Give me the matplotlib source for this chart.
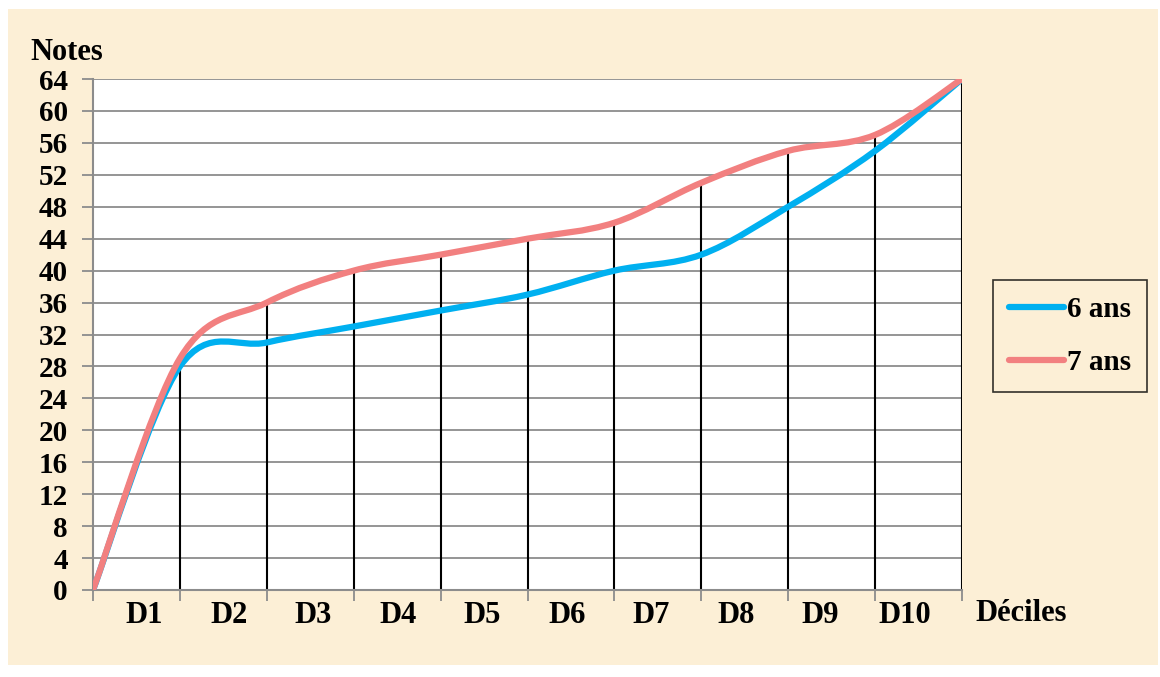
import numpy as np
import matplotlib
matplotlib.use('Agg')
import matplotlib.pyplot as plt
from matplotlib.path import Path
from matplotlib.patches import PathPatch, Rectangle
from matplotlib.lines import Line2D

# data (values at decile boundaries 0..10)
bounds = np.arange(11)
notes_6ans = [0, 28, 31, 33, 35, 37, 40, 42, 48, 55, 64]
notes_7ans = [0, 29, 36, 40, 42, 44, 46, 51, 55, 57, 64]
decile_labels = ['D1', 'D2', 'D3', 'D4', 'D5', 'D6', 'D7', 'D8', 'D9', 'D10']
y_ticks = list(range(0, 65, 4))

blue = '#00B0F0'
pink = '#F28080'
bg = '#FCEFD6'

plt.rcParams['font.family'] = ['Liberation Serif', 'DejaVu Serif']
plt.rcParams['font.weight'] = 'bold'

fig = plt.figure(figsize=(11.6, 6.77), dpi=100)
fig.patch.set_facecolor('white')
# parchment background panel
fig.patches.append(Rectangle((8 / 1160, 12 / 677), 1150 / 1160, 656 / 677,
                             transform=fig.transFigure, facecolor=bg,
                             edgecolor='none', zorder=-10))

ax = fig.add_axes([93 / 1160, 1 - 590 / 677, 869 / 1160, 511 / 677])
ax.set_facecolor('white')


def smooth_path(xs, ys):
    # excel-like smoothed line: bezier segments through the data points
    xs = np.asarray(xs, float)
    ys = np.asarray(ys, float)
    n = len(xs)
    verts = [(xs[0], ys[0])]
    codes = [Path.MOVETO]
    for i in range(n - 1):
        p0 = (xs[max(i - 1, 0)], ys[max(i - 1, 0)])
        p1 = (xs[i], ys[i])
        p2 = (xs[i + 1], ys[i + 1])
        p3 = (xs[min(i + 2, n - 1)], ys[min(i + 2, n - 1)])
        c1 = (p1[0] + (p2[0] - p0[0]) / 6, p1[1] + (p2[1] - p0[1]) / 6)
        c2 = (p2[0] - (p3[0] - p1[0]) / 6, p2[1] - (p3[1] - p1[1]) / 6)
        verts += [c1, c2, p2]
        codes += [Path.CURVE4] * 3
    return Path(verts, codes)


# gridlines
for v in y_ticks:
    ax.axhline(v, color='#8c8c8c', lw=1.3, zorder=1)

# drop lines up to the highest series
tops = np.maximum(notes_6ans, notes_7ans)
ax.vlines(bounds[1:], 0, tops[1:], color='black', lw=1.5, zorder=2)

ax.add_patch(PathPatch(smooth_path(bounds, notes_6ans), facecolor='none',
                       edgecolor=blue, lw=4.5, capstyle='round', zorder=3))
ax.add_patch(PathPatch(smooth_path(bounds, notes_7ans), facecolor='none',
                       edgecolor=pink, lw=4.5, capstyle='round', zorder=4))

ax.set_xlim(0, 10)
ax.set_ylim(0, 64)

for s in ['top', 'right']:
    ax.spines[s].set_visible(False)
ax.spines['left'].set_color('#8c8c8c')
ax.spines['bottom'].set_color('#8c8c8c')
ax.spines['left'].set_linewidth(1.5)
ax.spines['bottom'].set_linewidth(1.5)

ax.set_yticks(y_ticks)
ax.set_yticklabels([str(v) for v in y_ticks], fontsize=21, fontweight='bold')
ax.tick_params(axis='y', length=8, width=1.3, color='#8c8c8c', pad=10)

ax.set_xticks(bounds)
ax.set_xticklabels([])
ax.tick_params(axis='x', which='major', length=8, width=1.3, color='#8c8c8c')
label_pos = np.linspace(0.59, 9.34, len(decile_labels))
ax.set_xticks(label_pos, minor=True)
ax.set_xticklabels(decile_labels, minor=True, fontsize=22, fontweight='bold')
ax.tick_params(axis='x', which='minor', length=0, pad=8)

fig.text(67 / 1160, 1 - 60 / 677, 'Notes', fontsize=22, fontweight='bold',
         ha='center', va='baseline')
fig.text(1021 / 1160, 1 - 621 / 677, 'Déciles', fontsize=22, fontweight='bold',
         ha='center', va='baseline')

handles = [Line2D([], [], color=blue, lw=4.5, solid_capstyle='round'),
           Line2D([], [], color=pink, lw=4.5, solid_capstyle='round')]
leg = fig.legend(handles, ['6 ans', '7 ans'], loc='center',
                 bbox_to_anchor=(1070 / 1160, 1 - 336 / 677),
                 prop={'size': 21, 'weight': 'bold'}, frameon=True,
                 fancybox=False, handlelength=1.9, handletextpad=0.1,
                 labelspacing=0.9, borderpad=0.55, borderaxespad=0)
leg.get_frame().set_edgecolor('black')
leg.get_frame().set_linewidth(1.2)
leg.get_frame().set_facecolor('none')

fig.savefig('out.png', dpi=100)
